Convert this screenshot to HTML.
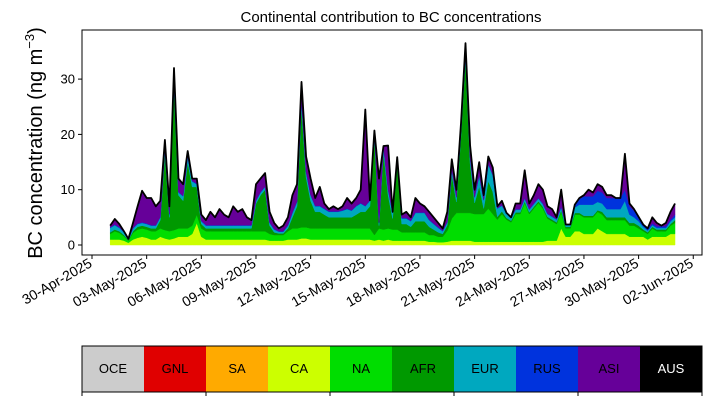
<!DOCTYPE html>
<html><head><meta charset="utf-8"><style>
body{margin:0;background:#fff;}
svg{display:block;font-family:"Liberation Sans","DejaVu Sans",sans-serif;}
</style></head><body>
<svg id="chart" width="711" height="402" viewBox="0 0 711 402" xmlns="http://www.w3.org/2000/svg">
<rect x="0" y="0" width="711" height="402" fill="#fff"/>
<text x="391" y="22" font-size="15" text-anchor="middle">Continental contribution to BC concentrations</text>
<text transform="translate(42,143) rotate(-90)" font-size="20" text-anchor="middle">BC concentration (ng m<tspan font-size="13" dy="-8">−3</tspan><tspan dy="8">)</tspan></text>
<g id="areas"></g>
<g id="yaxis"></g>
<g id="xaxis"></g>
<rect x="82" y="30" width="620" height="225" fill="none" stroke="#000" stroke-width="1"/>
<g id="legend"></g>
</svg>
<script>
const startDay = 1.0, stepDay = 0.25;
const xTickLabels = ["30-Apr-2025","03-May-2025","06-May-2025","09-May-2025","12-May-2025","15-May-2025","18-May-2025","21-May-2025","24-May-2025","27-May-2025","30-May-2025","02-Jun-2025"];
const xTickDays = [0,3,6,9,12,15,18,21,24,27,30,33];
const yTicks = [0,10,20,30];
const regions = ["OCE","GNL","SA","CA","NA","AFR","EUR","RUS","ASI","AUS"];
const regionColors = ["#cccccc","#e00000","#ffaa00","#ccff00","#00dd00","#009900","#00a8bf","#0033dd","#660099","#000000"];
const total = [3.5,4.7,3.8,2.5,1.0,4,7,9.8,8.5,8.5,7,8,
 19,7,32,12,11,17,12,12,5.5,4.5,6,5,
 6.5,5.5,5,7,6,6.5,5,4.5,11,12,13,6,
 4,3,3.5,5,9,11,29.5,16,12,8.5,10.5,7.5,
 6.5,7,6.5,7,8.5,7.5,8.5,10,24.5,3,20,12,
 7,18,6,7.5,5.5,6,5,8.5,7.5,7,6,5,
 4,3,6,15.5,10,22,36.5,18,10,15,9,16,
 14,7,8,5.5,5,7.5,7.5,13.5,7.5,9,11,10,
 7,6.5,5,10,3,3,7,8.5,9,10,9.5,11,
 10.5,9,9,8.5,8,16.5,7.5,6.5,5,3.5,3,5,
 4,3.5,4,6,7.5];
const ca = [1,1,1,0.8,0.4,1,1.3,1.5,1.3,1,1,1.5,
 1.2,1,1.2,1.5,1.5,1.5,2,4,1.5,1,1,1,
 1,1,1,1,1,1,1,1,1,1,1,0.8,
 0.8,0.8,0.8,1,1,1,1.2,1.2,1,1,1,1,
 1,1,1,1,1,1,1,1,1,1,0.8,1,
 0.8,1,0.8,0.8,0.8,0.8,0.8,0.8,0.8,0.8,0.6,0.6,
 0.5,0.5,0.6,0.8,0.8,0.8,0.8,0.8,0.6,0.6,0.6,0.6,
 0.6,0.6,0.6,0.6,0.6,0.6,0.6,0.6,0.6,0.6,0.6,0.6,
 0.8,0.8,0.8,3,1.5,1.5,2.5,2.5,2,2,2,3,
 2.5,2,2,2,2,2,1.5,1.5,1.5,1.5,1,1.5,
 1.5,1.5,1.5,2,2];
const na = [1,1.5,1.2,0.8,0.4,1.2,1.5,1.5,1.5,1.5,1.5,1.5,
 1.5,1.5,1.5,1.5,1.5,1.5,1.5,1.5,1.5,1.5,1.5,1.5,
 1.5,1.5,1.5,1.5,1.5,1.5,1.5,1.5,1.5,1.5,1.5,1.2,
 1,1,1,1.5,2,2,2,2,2,2,2,2,
 2,2,2,2,2,2,2,2,2,2,1,2,
 2,2,2,2,1.5,1.5,1.5,1.5,1.5,1.5,1.2,1.2,
 1,1,2,4,5,5,5,5,5,5,5,6,
 5,4,5,4,3.5,5,5,7,5,6,7,6,
 4,3.5,3,3,1.5,1.5,3,3,3,3,3,3,
 3,2.5,2.5,2.5,2.5,2.5,2,2,1.5,1,1,1.5,
 1,1,1,1.5,2];
const afr = [0.3,0.3,0.3,0.2,0.1,0.3,0.5,0.5,0.5,0.5,0.5,1.5,
 14,2.5,26,6,5,12,7,5,0.8,0.5,0.5,0.5,
 0.5,0.5,0.5,0.5,0.5,0.5,0.5,0.5,5,6.5,7.5,1.5,
 0.5,0.3,0.3,0.5,2,4,22,9,5,3,3,2.5,
 2,2,2,2,2,2,2.5,3,3,4,18,0.5,
 14,6,2,12,1.5,1.5,1,2,2,2,1.5,1,
 0.8,0.5,1,8,2,14,28,9,2,5,1,5,
 4,0.5,0.5,0.3,0.3,0.3,0.3,0.3,0.3,0.3,0.3,0.3,
 0.3,0.3,0.3,0.3,0.3,0.3,0.3,0.3,0.3,0.3,0.3,0.3,
 0.5,0.5,0.5,0.5,0.5,0.5,0.5,0.5,0.5,0.3,0.3,0.3,
 0.3,0.3,0.3,0.3,0.5];
const eur = [0.8,0.8,0.6,0.5,0.1,0.5,0.5,0.5,0.5,0.5,0.5,0.5,
 0.8,0.5,1,0.5,0.8,1,1,0.5,0.5,0.5,0.5,0.5,
 0.5,0.5,0.5,0.5,0.5,0.5,0.5,0.5,0.5,0.5,0.5,0.5,
 0.5,0.3,0.3,0.5,0.8,0.8,1,1,1,1,1,1,
 1,1,1,1.2,1.5,1.2,1.5,1.5,1,1,0.8,0.5,
 1,1,1,1,1,1,1,1.5,1.5,1.5,1.2,1,
 0.8,0.5,0.5,0.8,0.8,0.8,0.8,1,1,2,1.5,3,
 3,1.5,1,0.8,0.5,0.5,0.5,0.5,0.5,0.5,0.5,0.5,
 0.5,0.5,0.5,0.5,0.3,0.3,1,1.5,2,2,2,1.5,
 1.5,1.5,1.5,1.5,1.5,3,1.5,1,0.8,0.5,0.3,0.3,
 0.3,0.3,0.3,0.5,0.5];
const rus = [0.1,0.1,0.1,0.1,0.1,0.1,0.1,0.1,0.1,0.1,0.1,0.1,
 0.1,0.1,0.1,0.1,0.1,0.1,0.1,0.1,0.1,0.1,0.1,0.1,
 0.1,0.1,0.1,0.1,0.1,0.1,0.1,0.1,0.1,0.1,0.1,0.1,
 0.1,0.1,0.1,0.1,0.1,0.1,0.1,0.1,0.1,0.1,0.1,0.1,
 0.1,0.1,0.1,0.1,0.1,0.1,0.1,0.1,0.1,0.1,0.1,0.1,
 0.1,0.1,0.1,0.1,0.1,0.1,0.1,0.1,0.1,0.1,0.1,0.1,
 0.1,0.1,0.1,0.1,0.1,0.1,0.1,0.1,0.1,0.1,0.1,0.1,
 0.1,0.1,0.1,0.1,0.1,0.1,0.1,0.1,0.1,0.1,0.1,0.1,
 0.1,0.1,0.1,0.2,0.1,0.1,0.5,1,1.5,1.5,1.5,2,
 2,2,2,2,2,2,1.5,1.2,0.8,0.4,0.3,0.3,
 0.3,0.3,0.3,0.3,0.5];

const NS = "http://www.w3.org/2000/svg";
const X = d => 92 + d * 18.22;
const Y = v => 245 - v * 5.53;
function mk(tag, attrs, parent){const e=document.createElementNS(NS,tag);for(const k in attrs)e.setAttribute(k,attrs[k]);parent.appendChild(e);return e;}

const n = total.length;
const asi = total.map((t,i)=>Math.max(0, t-(ca[i]+na[i]+afr[i]+eur[i]+rus[i])));
const series = [ca,na,afr,eur,rus,asi];
const sNames = ["ca","na","afr","eur","rus","asi"];
const sColors = [regionColors[3],regionColors[4],regionColors[5],regionColors[6],regionColors[7],regionColors[8]];
const areas = document.getElementById('areas');
let base = new Array(n).fill(0);
series.forEach((s,k)=>{
  const top = base.map((b,i)=>b+s[i]);
  let d = "";
  for(let i=0;i<n;i++) d += (i?"L":"M") + X(startDay+i*stepDay).toFixed(1)+","+Y(top[i]).toFixed(1);
  for(let i=n-1;i>=0;i--) d += "L" + X(startDay+i*stepDay).toFixed(1)+","+Y(base[i]).toFixed(1);
  const p = mk('path',{d:d+"Z",fill:sColors[k],stroke:sColors[k],'stroke-width':0.5},areas);
  
  
  base = top;
});
let ld="";
for(let i=0;i<n;i++) ld += (i?"L":"M") + X(startDay+i*stepDay).toFixed(1)+","+Y(Math.max(total[i],base[i])).toFixed(1);
const tl = mk('path',{d:ld,fill:'none',stroke:'#000','stroke-width':1.8,'stroke-linejoin':'round'},areas);



const ya = document.getElementById('yaxis');
yTicks.forEach(v=>{
  const t = mk('line',{x1:78,x2:82,y1:Y(v),y2:Y(v),stroke:'#000'},ya);
  
  
  const l = mk('text',{x:75,y:Y(v)+4.5,'font-size':13,'text-anchor':'end'},ya);
  l.textContent = v;
  
  
});
const xa = document.getElementById('xaxis');
xTickDays.forEach((d,i)=>{
  const x = X(d);
  const t = mk('line',{x1:x,x2:x,y1:255,y2:259,stroke:'#000'},xa);
  
  
  const l = mk('text',{transform:`translate(${x+1},${266}) rotate(-30)`,'font-size':14,'text-anchor':'end'},xa);
  l.textContent = xTickLabels[i];
  
  
});
const lg = document.getElementById('legend');
const cw = 62;
regions.forEach((r,i)=>{
  const c = mk('rect',{x:82+i*cw,y:346,width:cw,height:46,fill:regionColors[i]},lg);
  
  
  const t = mk('text',{x:82+i*cw+cw/2,y:373,'font-size':13,'text-anchor':'middle',fill:r==="AUS"?"#fff":"#000"},lg);
  t.textContent = r;
  
  
});
mk('rect',{x:82,y:346,width:620,height:46,fill:'none',stroke:'#000'},lg);
[0,2,4,6,8,10].forEach(k=>{
  const t = mk('line',{x1:82+k*cw,x2:82+k*cw,y1:392,y2:396,stroke:'#000'},lg);
  
  
});
</script>
</body></html>
